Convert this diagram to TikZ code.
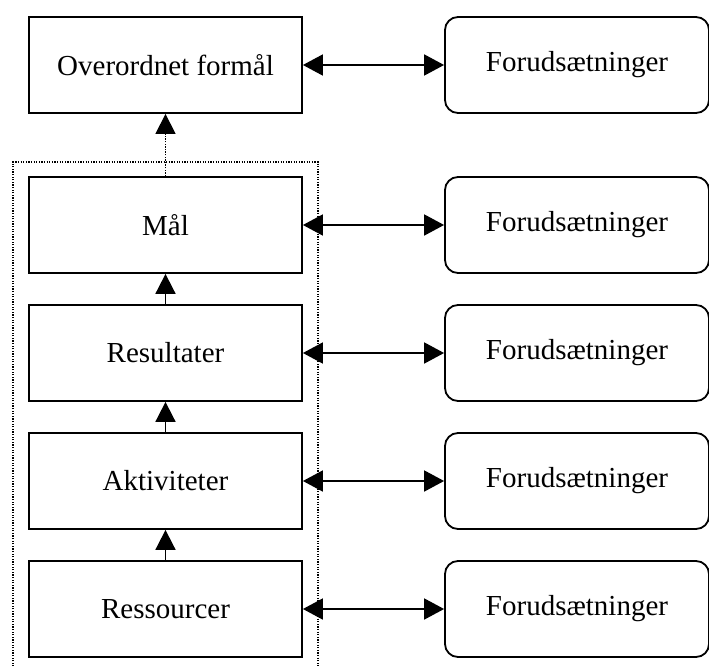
\documentclass[tikz,border=0pt]{standalone}
\usepackage{fontspec}
\setmainfont{Liberation Serif}
\usetikzlibrary{arrows.meta}
\begin{document}
\begin{tikzpicture}[x=1pt,y=-1pt,
  lvl/.style={draw,line width=1.8pt,minimum width=273pt,minimum height=96pt,inner sep=0pt,
              font=\fontsize{29}{34}\selectfont},
  cond/.style={lvl,rounded corners=13pt,minimum width=264pt},
  link/.style={line width=1.8pt,{Triangle[length=20pt,width=21pt]}-{Triangle[length=20pt,width=21pt]}},
  up/.style={line width=1.8pt,-{Triangle[length=20pt,width=20pt]}},
  frame/.style={line width=1.3pt,dash pattern=on 1.3pt off 1.3pt}]
  \useasboundingbox (0,0) rectangle (709,666);
  \clip (0,0) rectangle (709,666);
  % left column
  \node[lvl] (over) at (165.5,65)  {Overordnet formål};
  \node[lvl] (maal) at (165.5,225) {Mål};
  \node[lvl] (res)  at (165.5,353) {Resultater};
  \node[lvl] (akt)  at (165.5,481) {Aktiviteter};
  \node[lvl] (ress) at (165.5,609) {Ressourcer};
  % assumptions column
  \node[cond] (f0) at (577,65)  {Forudsætninger};
  \node[cond] (f1) at (577,225) {Forudsætninger};
  \node[cond] (f2) at (577,353) {Forudsætninger};
  \node[cond] (f3) at (577,481) {Forudsætninger};
  \node[cond] (f4) at (577,609) {Forudsætninger};
  % dotted frame around the project levels
  \draw[frame] (13,690) -- (13,162) -- (318,162) -- (318,690);
  % horizontal links
  \foreach \a/\b in {over/f0,maal/f1,res/f2,akt/f3,ress/f4}
    \draw[link] (\a.east) -- (\b.west);
  % vertical chain
  \draw[up] (ress.north) -- (akt.south);
  \draw[up] (akt.north) -- (res.south);
  \draw[up] (res.north) -- (maal.south);
  \draw[up,dash pattern=on 1.3pt off 1.3pt,line width=1.3pt] (maal.north) -- (over.south);
\end{tikzpicture}
\end{document}
